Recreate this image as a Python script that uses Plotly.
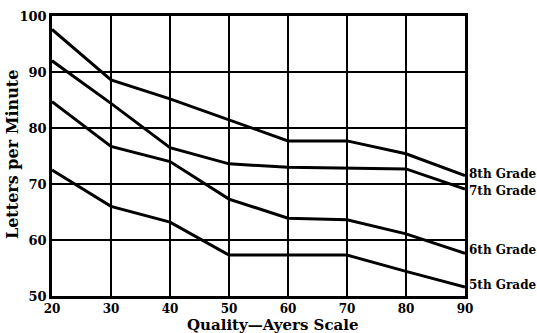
import plotly.graph_objects as go

quality = [20, 30, 40, 50, 60, 70, 80, 90]
grade8 = [97.6, 88.6, 85.2, 81.4, 77.7, 77.7, 75.4, 71.5]
grade7 = [92.0, 84.4, 76.5, 73.6, 73.0, 72.9, 72.7, 69.1]
grade6 = [84.7, 76.7, 74.0, 67.3, 63.9, 63.6, 61.1, 57.6]
grade5 = [72.5, 66.0, 63.2, 57.3, 57.3, 57.3, 54.4, 51.6]
labels = ["8th Grade", "7th Grade", "6th Grade", "5th Grade"]
label_y = [71.8, 68.8, 58.2, 52.0]
yt = [50, 60, 70, 80, 90, 100]
x_title = "Quality—Ayers Scale"
y_title = "Letters per Minute"

FONT = "DejaVu Serif"
fig = go.Figure()
for ys in [grade8, grade7, grade6, grade5]:
    fig.add_trace(go.Scatter(x=quality, y=ys, mode="lines",
                             line=dict(color="black", width=3), showlegend=False,
                             hoverinfo="skip"))

for lab, ly in zip(labels, label_y):
    fig.add_annotation(x=90, y=ly, xref="x", yref="y", text=f"<b>{lab}</b>",
                       showarrow=False, xanchor="left", xshift=2,
                       font=dict(family=FONT, size=12, color="black"))

fig.add_annotation(x=0.535, y=-0.102, xref="paper", yref="paper",
                   text=f"<b>{x_title}</b>", showarrow=False,
                   xanchor="center", yanchor="middle", borderpad=0,
                   font=dict(family=FONT, size=15, color="black"))
fig.add_annotation(x=-0.094, y=0.504, xref="paper", yref="paper",
                   text=f"<b>{y_title}</b>", showarrow=False, textangle=-90,
                   xanchor="center", yanchor="middle",
                   font=dict(family=FONT, size=16, color="black"))

fig.update_layout(
    width=537, height=333,
    margin=dict(l=52, r=72, t=16, b=37),
    paper_bgcolor="white", plot_bgcolor="white",
    font=dict(family=FONT, color="black"),
)
fig.update_xaxes(range=[20, 90], tickvals=quality,
                 ticktext=[f"<b>{v}</b>" for v in quality],
                 showgrid=True, gridcolor="black", gridwidth=1.5,
                 showline=True, linecolor="black", linewidth=2.5, mirror=True,
                 zeroline=False, ticks="", automargin=False,
                 tickfont=dict(size=12, family=FONT))
fig.update_yaxes(range=[50, 100], tickvals=yt,
                 ticktext=[f"<b>{v}</b>" for v in yt],
                 showgrid=True, gridcolor="black", gridwidth=1.5,
                 showline=True, linecolor="black", linewidth=2.5, mirror=True,
                 zeroline=False, ticks="", automargin=False,
                 tickfont=dict(size=13, family=FONT))

fig.write_html("out.html", config={"displayModeBar": False},
               post_script="document.body.style.margin='0';document.body.style.overflow='hidden';")
